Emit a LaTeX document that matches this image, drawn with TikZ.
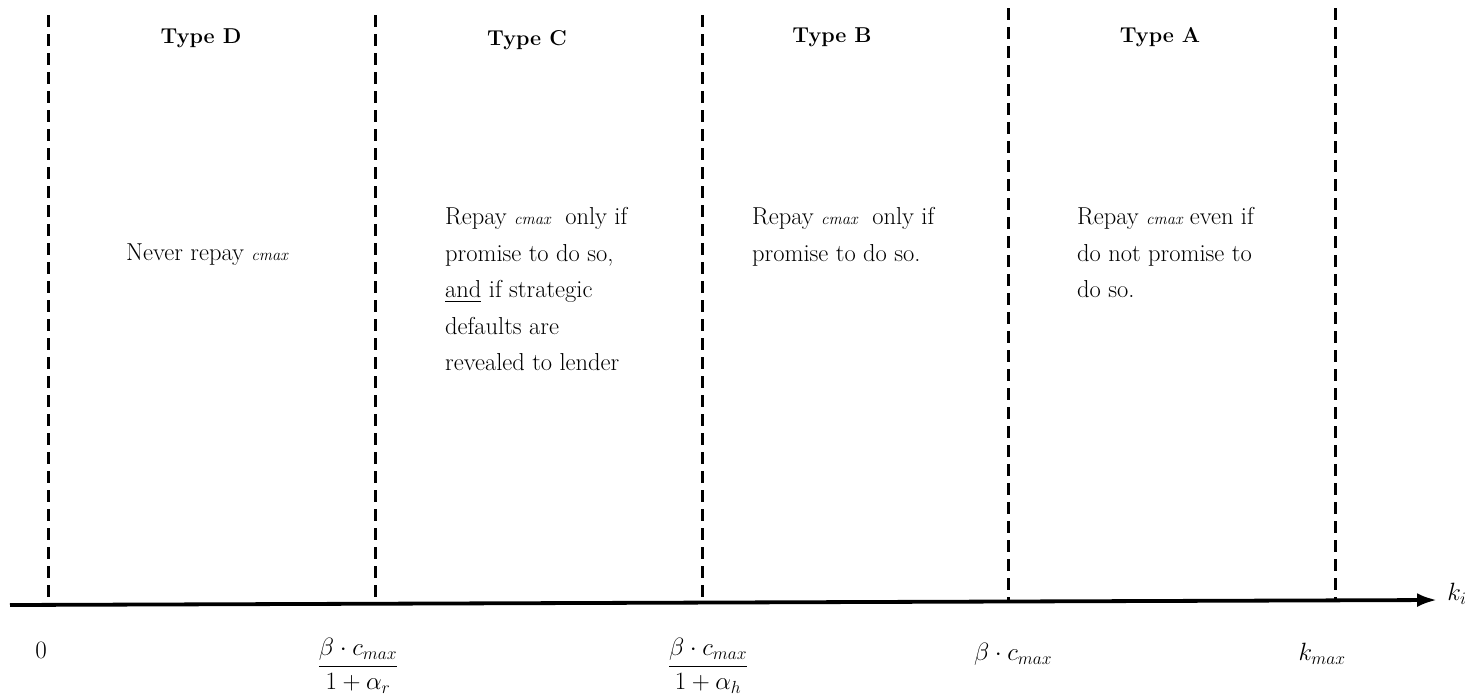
\RequirePackage{fix-cm}
\documentclass[tikz,border=0pt]{standalone}
\usepackage{amsmath}
\usetikzlibrary{arrows.meta}
\begin{document}
\begin{tikzpicture}[x=1pt,y=-1pt,
  divider/.style={line width=3pt, dash pattern=on 12pt off 7pt},
  axisline/.style={line width=3.8pt, -{Latex[length=20pt,width=14pt]}},
  typetitle/.style={font=\fontsize{21.5}{25}\selectfont\bfseries, anchor=center},
  desc/.style={font=\fontsize{24.5}{36.6}\selectfont, anchor=north west, align=left, inner sep=0pt},
  lab/.style={font=\fontsize{25}{30}\selectfont, anchor=center}]
\newcommand{\cmx}{{\fontsize{16.5}{18}\selectfont\itshape cmax}}
\useasboundingbox (0,0) rectangle (1479,699);
% axis
\coordinate (axL) at (10,605);
\coordinate (axR) at (1437,600);
\draw[axisline] (axL) -- (axR);
% dividers
\foreach \n/\x/\t/\b in {d0/48/15/604.9, d1/375/15/603.8, d2/702/15/602.6, d3/1008/8/601.5, d4/1335/8/600.4}{
  \coordinate (\n t) at (\x,\t);
  \coordinate (\n b) at (\x,\b);
  \draw[divider] (\n t) -- (\n b);
}
% titles
\node[typetitle] (tD) at (201,38) {Type D};
\node[typetitle] (tC) at (527,40) {Type C};
\node[typetitle] (tB) at (832,37) {Type B};
\node[typetitle] (tA) at (1160,37) {Type A};
% descriptions
\node[desc] (xD) at (126,244) {Never repay \cmx};
\node[desc] (xC) at (445,207) {Repay \cmx\ \ only if\\promise to do so,\\\underline{and} if strategic\\defaults are\\revealed to lender};
\node[desc] (xB) at (752,207) {Repay \cmx\ \ only if\\promise to do so.};
\node[desc] (xA) at (1077,207) {Repay \cmx\ even if\\do not promise to\\do so.};
% axis labels
\node[lab] (l0) at (41,650) {$0$};
\node[lab] (l1) at (358,666) {$\dfrac{\beta\cdot c_{max}}{1+\alpha_r}$};
\node[lab] (l2) at (708,666) {$\dfrac{\beta\cdot c_{max}}{1+\alpha_h}$};
\node[lab] (l3) at (1013,654) {$\beta\cdot c_{max}$};
\node[lab] (l4) at (1322,654) {$k_{max}$};
\node[lab] (lk) at (1457,594) {$k_i$};
\end{tikzpicture}
\end{document}
